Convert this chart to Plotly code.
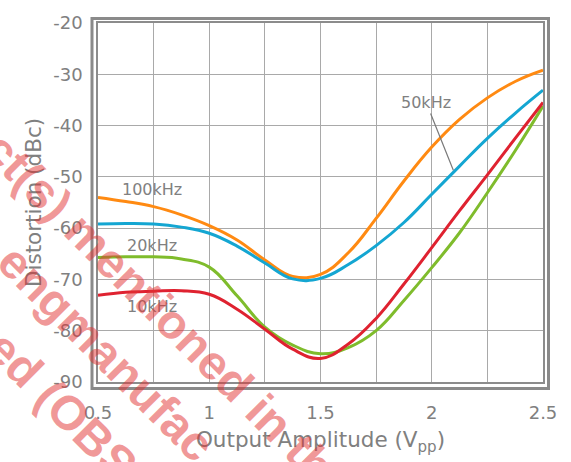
import plotly.graph_objects as go

# Output amplitude (Vpp) sample points
amp = [0.5, 0.625, 0.75, 0.875, 1.0, 1.125, 1.25, 1.375, 1.5,
       1.625, 1.75, 1.875, 2.0, 2.125, 2.25, 2.375, 2.5]

# Distortion (dBc) per input frequency
d100k = [-54.0, -54.8, -55.8, -57.4, -59.5, -62.3, -66.2, -69.4, -69.0,
         -64.8, -58.1, -50.8, -44.2, -38.8, -34.6, -31.4, -29.2]
d50k = [-59.2, -59.1, -59.2, -59.8, -61.0, -63.5, -66.8, -69.9, -69.8,
        -67.1, -63.4, -58.9, -53.4, -47.9, -42.5, -37.6, -33.1]
d20k = [-65.7, -65.6, -65.6, -66.0, -67.6, -73.2, -79.3, -82.8, -84.5,
        -83.3, -80.0, -74.1, -67.7, -60.9, -53.1, -44.9, -36.2]
d10k = [-73.1, -72.5, -72.3, -72.2, -72.9, -75.8, -79.7, -83.6, -85.4,
        -82.6, -77.6, -70.9, -63.8, -56.6, -49.6, -42.5, -35.5]

series_names = ["100kHz", "50kHz", "20kHz", "10kHz"]
series_vals = [d100k, d50k, d20k, d10k]
series_colors = ["#FF8A12", "#14A6D2", "#7FBC2C", "#DF2230"]

x_ticks = [0.5, 1, 1.5, 2, 2.5]
x_ticktext = ["0.5", "1", "1.5", "2", "2.5"]
x_minor = [0.75, 1.25, 1.75, 2.25]
y_ticks = [-90, -80, -70, -60, -50, -40, -30, -20]
y_ticktext = ["-90", "-80", "-70", "-60", "-50", "-40", "-30", "-20"]

watermark = ["ct(s) mentioned in th", "engmanufac", "ed (OBS"]

GRID = "#a9a9a9"
TXT = "#808080"
FONT = "DejaVu Sans"

fig = go.Figure()
for name, vals, col in zip(series_names, series_vals, series_colors):
    fig.add_trace(go.Scatter(
        x=amp, y=vals, name=name, mode="lines",
        line=dict(color=col, width=3, shape="spline", smoothing=1.2),
        hoverinfo="skip",
    ))

# Curve labels
label_font = dict(family=FONT, size=16, color=TXT)
for text, lx, ly in [("100kHz", 0.742, -52.5), ("20kHz", 0.742, -63.4), ("10kHz", 0.742, -75.2)]:
    fig.add_annotation(x=lx, y=ly, xref="x", yref="y", text=text, showarrow=False,
                       font=label_font, xanchor="center", yanchor="middle")
fig.add_annotation(x=2.097, y=-48.7, xref="x", yref="y", ax=1.975, ay=-35.5,
                   axref="x", ayref="y", text="50kHz", showarrow=True,
                   arrowhead=0, arrowwidth=1.2, arrowcolor="#7a7a7a", font=label_font)

# Diagonal watermark text
wm_pos = [(0.137, 0.207), (0.020, 0.080), (-0.081, -0.069)]
for text, (wx, wy) in zip(watermark, wm_pos):
    fig.add_annotation(x=wx, y=wy, xref="paper", yref="paper", text=text,
                       showarrow=False, textangle=45, xanchor="center", yanchor="middle",
                       font=dict(family="Liberation Sans", size=48, weight="bold",
                                 color="rgba(225,50,50,0.5)"))

W, H = 445, 362
# Outer frame around the plotting area
fig.add_shape(type="rect", xref="paper", yref="paper",
              x0=-6 / W, x1=1 + 5.5 / W, y0=-6.5 / H, y1=1 + 4.5 / H,
              line=dict(color="#8a8a8a", width=3), fillcolor="rgba(0,0,0,0)")

fig.update_xaxes(
    range=[0.5, 2.5], tickvals=x_ticks, ticktext=x_ticktext,
    showgrid=True, gridcolor=GRID, gridwidth=1.2,
    minor=dict(tickvals=x_minor, showgrid=True, gridcolor=GRID, gridwidth=1.2),
    showline=True, mirror=True, linecolor="#8c8c8c", linewidth=1.5,
    zeroline=False, ticks="", ticklabelstandoff=14,
    tickfont=dict(family=FONT, size=18, color=TXT),
    title=dict(text="Output Amplitude (V<sub>pp</sub>)", standoff=10,
               font=dict(family=FONT, size=21.5, color=TXT)),
)
fig.update_yaxes(
    range=[-90, -20], tickvals=y_ticks, ticktext=y_ticktext,
    showgrid=True, gridcolor=GRID, gridwidth=1.2,
    showline=True, mirror=True, linecolor="#8c8c8c", linewidth=1.5,
    zeroline=False, ticks="", ticklabelstandoff=10,
    tickfont=dict(family=FONT, size=18, color=TXT),
    title=dict(text="Distortion (dBc)", standoff=6,
               font=dict(family=FONT, size=21.5, color=TXT)),
)

fig.update_layout(
    width=571, height=462,
    margin=dict(l=98, r=28, t=20, b=80),
    plot_bgcolor="white", paper_bgcolor="white",
    showlegend=False,
)

fig.write_html("out.html")
